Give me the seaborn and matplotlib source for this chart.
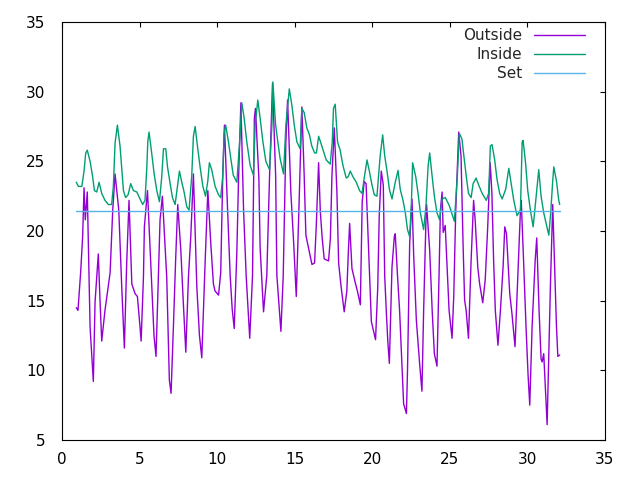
import numpy as np
import pandas as pd
import seaborn as sns
import matplotlib
matplotlib.use("Agg")
import matplotlib.pyplot as plt

# Outside temperature (day of month, deg C)
out_day = [0.92, 1.03, 1.2, 1.33, 1.42, 1.5, 1.63, 1.81, 2.02, 2.13, 2.34, 2.45, 2.56, 2.77,
           3.1, 3.27, 3.42, 3.66, 3.85, 4.02, 4.17, 4.32, 4.5, 4.71, 4.86, 5.03, 5.1, 5.25,
           5.31, 5.51, 5.78, 5.93, 6.06, 6.32, 6.47, 6.75, 6.92, 7.03, 7.18, 7.33, 7.46, 7.66,
           7.8, 7.98, 8.15, 8.3, 8.47, 8.69, 8.86, 9.01, 9.23, 9.4, 9.59, 9.76, 9.86, 10.09,
           10.23, 10.36, 10.47, 10.67, 10.84, 10.97, 11.1, 11.27, 11.38, 11.53, 11.7, 11.87,
           12.1, 12.28, 12.4, 12.47, 12.69, 12.77, 12.99, 13.2, 13.38, 13.57, 13.77, 13.85,
           14.11, 14.26, 14.43, 14.54, 14.75, 14.93, 15.1, 15.25, 15.46, 15.61, 15.72, 15.89,
           16.11, 16.28, 16.39, 16.54, 16.65, 16.77, 16.9, 17.18, 17.3, 17.4, 17.55, 17.72,
           17.83, 17.98, 18.19, 18.36, 18.46, 18.54, 18.69, 18.9, 19.05, 19.23, 19.35, 19.48,
           19.6, 19.83, 19.94, 20.21, 20.35, 20.45, 20.58, 20.71, 20.8, 20.9, 21.0, 21.1,
           21.27, 21.42, 21.48, 21.63, 21.76, 21.91, 22.02, 22.2, 22.27, 22.41, 22.56, 22.67,
           22.84, 23.05, 23.2, 23.31, 23.46, 23.5, 23.7, 23.86, 24.0, 24.17, 24.3, 24.39,
           24.5, 24.57, 24.7, 24.8, 24.95, 25.14, 25.25, 25.38, 25.57, 25.72, 25.85, 25.95,
           26.05, 26.2, 26.37, 26.53, 26.63, 26.8, 26.92, 27.12, 27.28, 27.44, 27.6, 27.71,
           27.82, 27.93, 28.1, 28.26, 28.43, 28.54, 28.65, 28.86, 29.0, 29.2, 29.38, 29.55,
           29.6, 29.75, 29.91, 30.04, 30.15, 30.3, 30.5, 30.6, 30.75, 30.88, 30.95, 31.05,
           31.15, 31.27, 31.38, 31.48, 31.63, 31.76, 31.87, 31.96, 32.08]
out_temp = [14.5, 14.3, 17.0, 19.6, 23.1, 20.8, 22.8, 13.1, 9.2, 14.9, 18.35, 15.0, 12.1, 14.3,
            17.0, 21.5, 24.1, 21.5, 16.0, 11.6, 17.7, 22.2, 16.2, 15.5, 15.3, 13.1, 12.1, 16.7,
            20.3, 22.9, 16.2, 12.5, 11.0, 20.8, 22.5, 16.7, 9.3, 8.35, 13.1, 18.1, 21.9, 18.6,
            15.3, 11.3, 16.7, 19.6, 24.1, 16.0, 12.5, 10.9, 17.9, 22.9, 19.1, 16.2, 15.7, 15.4,
            17.0, 23.9, 27.6, 21.6, 16.8, 14.4, 13.0, 18.5, 23.8, 29.2, 21.6, 16.8,
            12.3, 16.8, 28.1, 28.8, 23.8, 18.8, 14.2, 16.8, 24.0, 30.6, 24.0, 16.8,
            12.8, 16.8, 26.4, 29.4, 22.8, 19.2, 15.3, 20.8, 28.9, 24.0, 19.7, 18.8,
            17.6, 17.7, 20.4, 24.9, 21.4, 19.5, 18.0, 17.85, 19.5, 24.0, 27.4, 22.8,
            17.7, 16.1, 14.2, 15.7, 18.6, 20.55, 17.3, 16.3, 15.65, 14.7, 22.1, 23.55,
            23.4, 16.8, 13.5, 12.2, 15.9, 21.15, 24.3, 23.3, 16.8, 14.3, 12.1, 10.5,
            17.4, 19.6, 19.8, 16.7, 14.3, 10.5, 7.6, 6.9, 10.0, 19.1, 22.3, 18.2,
            13.6, 10.5, 8.5, 14.3, 20.8, 21.9, 18.6, 14.3, 11.2, 10.3, 16.7, 21.5,
            22.8, 19.9, 20.4, 17.9, 14.3, 12.3, 15.3, 21.5, 27.1, 25.4, 19.1, 15.05,
            14.3, 12.3, 17.9, 22.2, 20.8, 17.4, 16.2, 14.85, 16.5, 20.3, 24.9, 22.7,
            17.9, 14.3, 11.8, 14.3, 17.4, 20.3, 19.8, 15.5, 14.1, 11.7, 16.7, 21.5,
            22.2, 17.9, 13.1, 9.7, 7.5, 13.1, 17.9, 19.5, 14.3, 10.8, 10.6, 11.2,
            8.9, 6.1, 11.2, 16.0, 21.9, 17.2, 13.2, 11.0, 11.1]

# Inside temperature
in_day = [0.92, 1.06, 1.28, 1.42, 1.53, 1.63, 1.81, 1.96, 2.09, 2.24, 2.39, 2.56, 2.77, 2.99,
          3.2, 3.31, 3.42, 3.57, 3.74, 3.85, 3.96, 4.1, 4.26, 4.43, 4.6, 4.82, 5.03, 5.2,
          5.35, 5.46, 5.53, 5.61, 5.78, 5.94, 6.11, 6.28, 6.43, 6.54, 6.69, 6.8, 6.97, 7.12,
          7.29, 7.44, 7.57, 7.72, 7.87, 8.04, 8.19, 8.36, 8.47, 8.58, 8.73, 8.9, 9.08, 9.25,
          9.4, 9.5, 9.65, 9.87, 10.09, 10.23, 10.36, 10.45, 10.55, 10.73, 10.88, 11.04,
          11.27, 11.45, 11.59, 11.74, 11.91, 12.13, 12.34, 12.45, 12.62, 12.77, 12.95, 13.14,
          13.38, 13.53, 13.59, 13.77, 13.91, 14.06, 14.28, 14.43, 14.65, 14.82, 14.97, 15.14,
          15.35, 15.46, 15.61, 15.78, 15.95, 16.1, 16.28, 16.4, 16.54, 16.69, 16.86, 17.03,
          17.29, 17.42, 17.5, 17.61, 17.76, 17.93, 18.11, 18.32, 18.45, 18.58, 18.75, 18.97,
          19.18, 19.34, 19.48, 19.66, 19.81, 19.98, 20.13, 20.3, 20.51, 20.67, 20.8, 20.95,
          21.1, 21.27, 21.48, 21.66, 21.8, 21.98, 22.13, 22.27, 22.41, 22.52, 22.6, 22.8,
          22.95, 23.1, 23.31, 23.46, 23.6, 23.7, 23.86, 24.0, 24.17, 24.34, 24.5, 24.71,
          24.97, 25.29, 25.48, 25.61, 25.78, 25.88, 26.06, 26.2, 26.37, 26.5, 26.69, 26.86,
          27.08, 27.35, 27.5, 27.61, 27.72, 27.89, 28.04, 28.21, 28.37, 28.6, 28.8, 28.95,
          29.12, 29.33, 29.55, 29.66, 29.72, 29.87, 30.02, 30.19, 30.37, 30.58, 30.73, 30.88,
          31.05, 31.38, 31.5, 31.63, 31.7, 31.87, 32.02, 32.08]
in_temp = [23.5, 23.2, 23.2, 24.3, 25.6, 25.8, 25.0, 24.0, 22.9, 22.8, 23.5, 22.7, 22.2, 21.9,
           21.9, 23.2, 26.3, 27.6, 26.1, 24.5, 22.9, 22.4, 22.6, 23.4, 22.9, 22.8, 22.3, 21.9,
           22.2, 24.4, 26.4, 27.1, 25.6, 24.1, 22.9, 22.1, 23.9, 25.9, 25.9, 24.6, 23.4, 22.4,
           21.9, 23.2, 24.3, 23.5, 22.8, 21.75, 21.5, 23.9, 26.8, 27.5, 26.1, 24.6, 23.2, 22.5,
           23.6, 24.9, 24.4, 23.2, 22.6, 22.4, 23.9, 27.0, 27.6, 26.4, 25.2, 24.0,
           23.5, 26.4, 29.2, 28.1, 26.4, 24.7, 24.0, 27.6, 29.4, 28.1, 26.4, 25.0,
           24.4, 27.6, 30.7, 27.6, 26.4, 25.2, 24.1, 27.6, 30.2, 29.0, 27.6, 26.4,
           25.9, 28.8, 28.5, 27.4, 26.9, 26.1, 25.6, 25.6, 26.8, 26.3, 25.7, 25.1,
           24.8, 26.4, 28.8, 29.1, 26.4, 25.8, 24.7, 23.8, 23.9, 24.3, 23.9, 23.5,
           22.9, 22.7, 23.8, 25.1, 24.3, 23.3, 22.6, 22.5, 25.4, 26.9, 25.4, 24.3,
           23.0, 22.3, 23.5, 24.35, 23.0, 22.2, 21.3, 20.1, 19.6, 22.0, 24.9, 23.9,
           22.7, 21.3, 20.1, 21.8, 24.7, 25.6, 23.9, 22.5, 21.3, 20.8, 22.3, 22.4,
           21.8, 20.7, 23.9, 27.0, 26.6, 25.6, 23.9, 22.7, 22.4, 23.4, 23.8, 23.3,
           22.7, 22.2, 22.7, 26.1, 26.2, 25.1, 23.7, 22.7, 22.3, 23.0, 24.5, 23.4,
           22.2, 21.1, 21.5, 26.4, 26.5, 25.0, 22.9, 21.5, 20.3, 22.7, 24.4, 22.5,
           21.3, 19.7, 21.3, 23.6, 24.6, 23.6, 22.2, 21.9]

# Thermostat set point
set_day = [0.92, 32.08]
set_temp = [21.45, 21.45]

series = [("Outside", out_day, out_temp, "#9400d3"),
          ("Inside", in_day, in_temp, "#009e73"),
          ("Set", set_day, set_temp, "#56b4e9")]

sns.set_style("white")
plt.rcParams["font.family"] = ["DejaVu Sans"]

fig, ax = plt.subplots(figsize=(6.4, 4.8), dpi=100)
fig.subplots_adjust(left=62 / 640, right=605 / 640, bottom=40 / 480, top=458 / 480)

for name, xs, ys, col in series:
    df = pd.DataFrame({"day": xs, "temp": ys})
    sns.lineplot(data=df, x="day", y="temp", ax=ax, color=col, linewidth=1.0,
                 label=name, estimator=None, sort=False)

ax.set_xlim(0, 35)
ax.set_ylim(5, 35)
ax.set_xticks(np.arange(0, 36, 5))
ax.set_yticks(np.arange(5, 36, 5))
ax.set_xlabel("")
ax.set_ylabel("")
ax.tick_params(direction="in", length=3.5, width=0.8, top=True, right=True,
               labelsize=11, colors="black")
ax.tick_params(axis="x", pad=9)
ax.tick_params(axis="y", pad=12)
for sp in ax.spines.values():
    sp.set_color("black")
    sp.set_linewidth(0.8)

ax.legend(loc="upper right", bbox_to_anchor=(0.963, 0.985), frameon=False,
          markerfirst=False, handlelength=3.3, handletextpad=0.8,
          labelspacing=0.25, borderpad=0, borderaxespad=0, fontsize=11)

fig.savefig("out.png", dpi=100)
